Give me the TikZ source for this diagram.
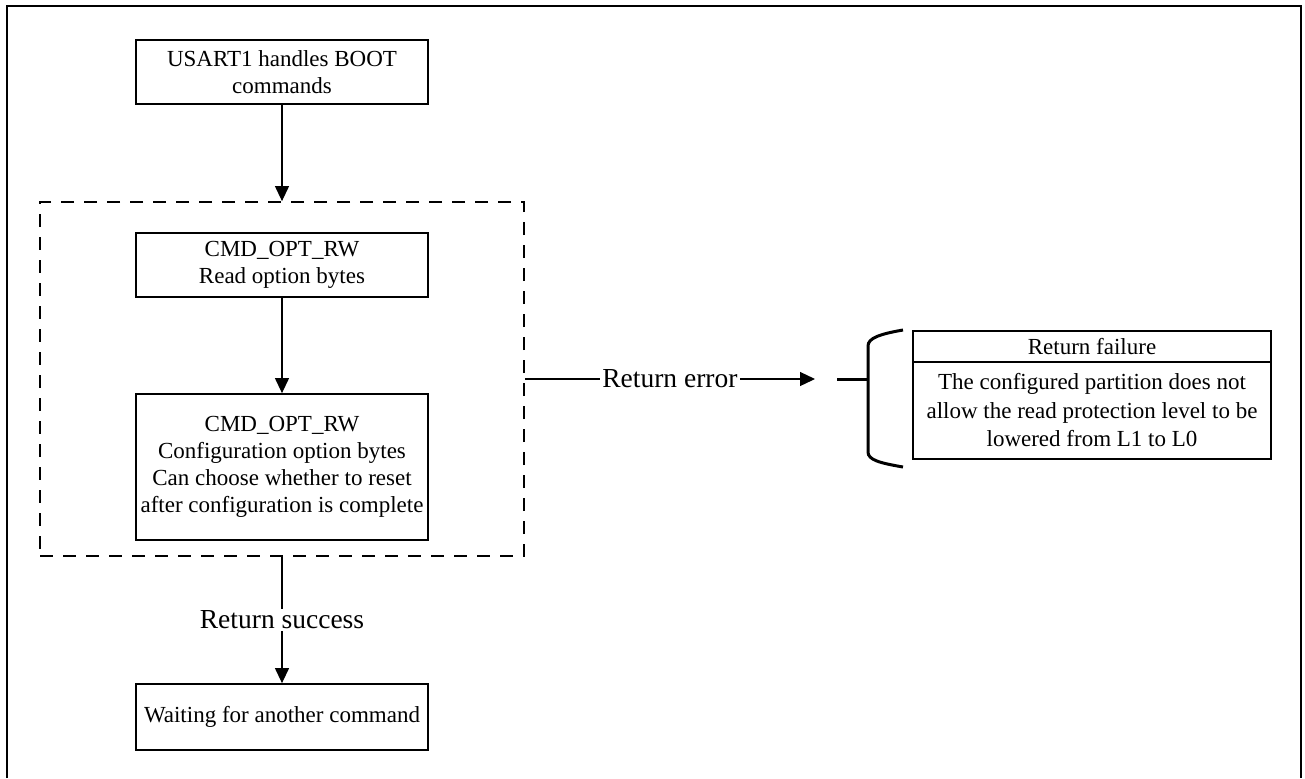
\documentclass[tikz,border=0pt]{standalone}
\usepackage{fontspec}
\setmainfont{Liberation Serif}
\usetikzlibrary{arrows.meta}

\begin{document}
\begin{tikzpicture}[x=0.5pt, y=-0.5pt,
    box/.style={draw, line width=0.9pt, minimum width=146pt, inner sep=0pt, align=center, font=\fontsize{11.5}{13.5}\selectfont},
    flow/.style={line width=0.6pt, -{Triangle[length=7.5pt,width=7pt]}},
    lbl/.style={fill=white, inner sep=1pt, font=\fontsize{13.75}{16}\selectfont}]
  \useasboundingbox (0,0) rectangle (1305,778);
  % frame
  \draw[line width=1pt] (7,778) -- (7,6) -- (1301,6) -- (1301,778);
  % main column
  \node[box, minimum height=32pt] (usart) at (282,72) {USART1 handles BOOT\\commands};
  \node[draw, line width=0.9pt, dash pattern=on 6.5pt off 5pt, minimum width=242pt, minimum height=177pt, inner sep=0pt] (group) at (282,379) {};
  \node[box, minimum height=32pt] (readopt) at (282,265) {CMD\_OPT\_RW\\Read option bytes};
  \node[box, minimum height=73pt] (confopt) at (282,467) {CMD\_OPT\_RW\\Configuration option bytes\\Can choose whether to reset\\after configuration is complete};
  \node[box, minimum height=33pt] (waitcmd) at (282,717) {Waiting for another command};
  \draw[flow] (usart) -- (group.north);
  \draw[flow] (readopt) -- (confopt);
  \draw[flow] (group.south) -- node[lbl, midway] {Return success} (waitcmd);
  % error branch
  \coordinate (errtip) at (815,379);
  \draw[flow] (group.east) -- node[lbl, midway] {Return error} (errtip);
  \coordinate (stub) at (837,379);
  \coordinate (brace) at (868,379);
  \draw[line width=1.5pt] (stub) -- (brace);
  \draw[line width=1.5pt] (903,330) .. controls (880,334) and (868,338) .. (868,346)
    -- (868,452) .. controls (868,460) and (880,463) .. (903,467);
  \node[box, minimum width=179pt, minimum height=15.5pt] (failhead) at (1092,346.5) {Return failure};
  \node[box, minimum width=179pt, minimum height=48.5pt, font=\fontsize{11.5}{14.25}\selectfont] (failbody) at (1092,410.5) {The configured partition does not\\allow the read protection level to be\\lowered from L1 to L0};
\end{tikzpicture}
\end{document}
